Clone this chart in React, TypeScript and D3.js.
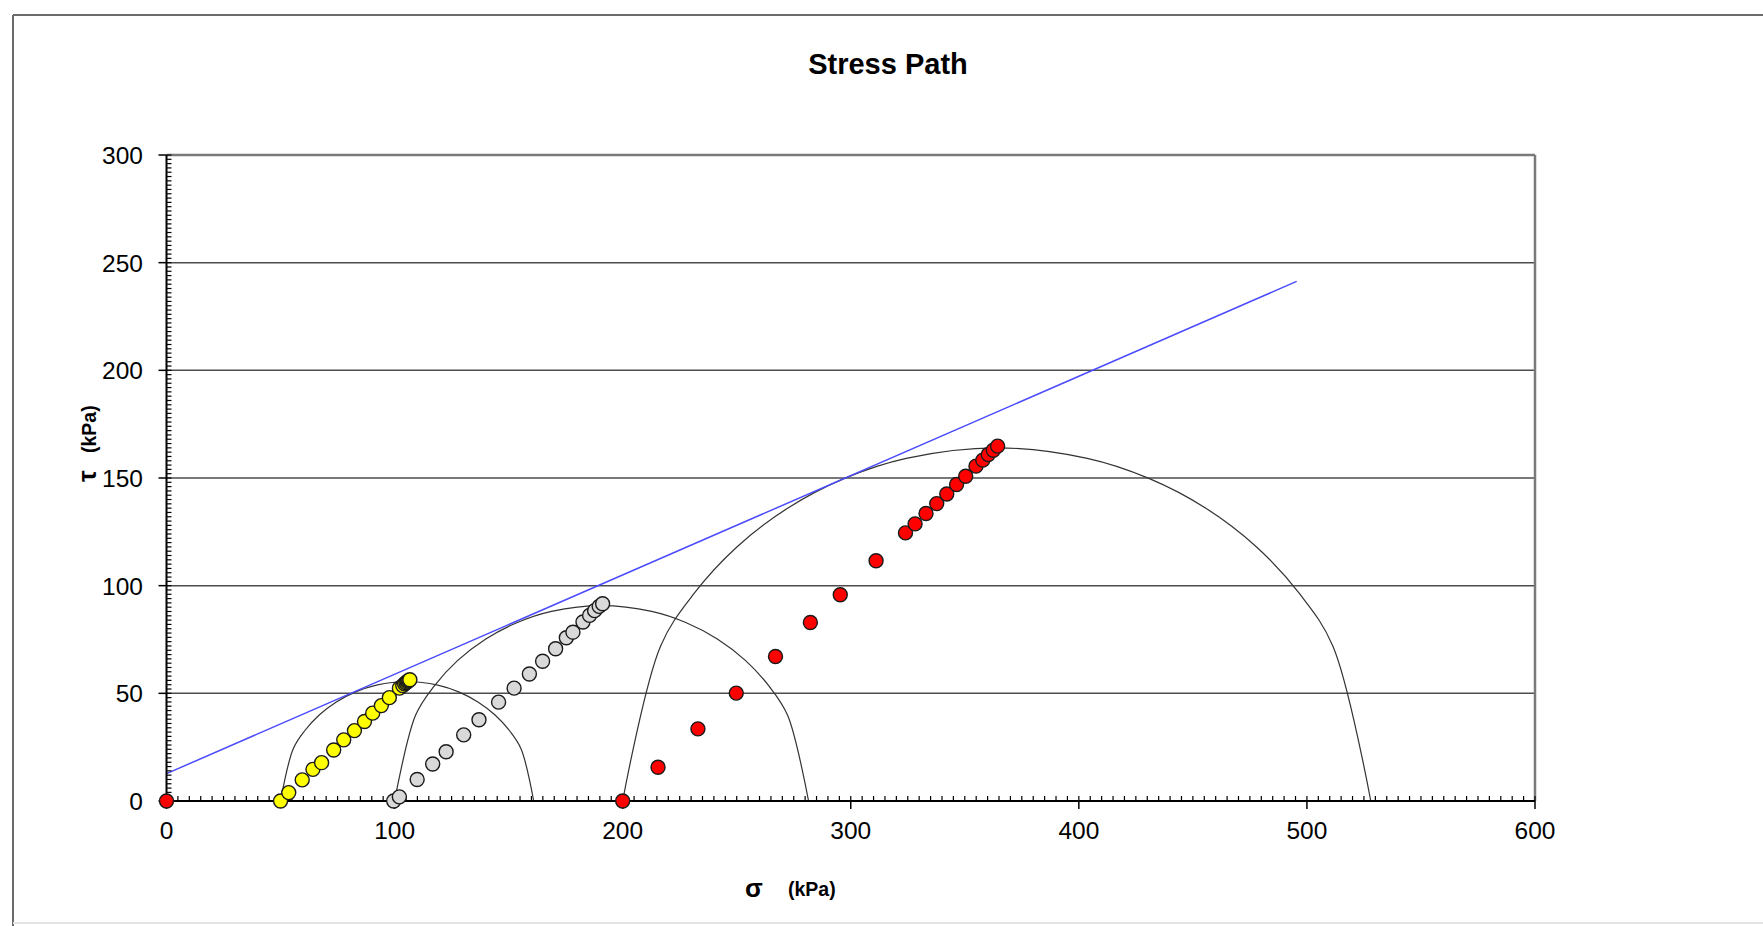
import React from "react";
import * as d3 from "d3";

const W = 1763;
const H = 926;

const xTicks = [0, 100, 200, 300, 400, 500, 600];
const yTicks = [0, 50, 100, 150, 200, 250, 300];

// Mohr circles: minor and major principal stresses (kPa)
const sigma3 = [50, 100, 200];
const sigma1 = [161, 281.5, 528];

// failure envelope end points [sigma, tau]
const envelope: [number, number][] = [
  [0, 12.7],
  [495.5, 241.3],
];

const originPoint: [number, number][] = [[0, 0]];

const yellowSigma = [50, 53.6, 59.5, 64.2, 68, 73.3, 77.7, 82.4, 86.8, 90.4, 94.2, 97.7, 102.1, 103.6, 104.4, 105.0, 105.5, 105.9, 106.3, 106.7];
const yellowTau = [0, 3.9, 9.8, 14.7, 17.8, 23.7, 28.4, 32.7, 36.9, 40.8, 44.3, 48.0, 52.4, 53.6, 54.4, 54.9, 55.3, 55.7, 56.0, 56.3];

const graySigma = [99.6, 102.1, 109.9, 116.7, 122.6, 130.3, 137, 145.6, 152.4, 159.1, 164.9, 170.6, 175.3, 178.2, 182.6, 185.5, 187.7, 189.7, 191.2];
const grayTau = [0, 1.9, 10, 17.2, 22.9, 30.7, 37.7, 45.9, 52.4, 59, 64.9, 70.7, 75.8, 78.4, 83.1, 86.2, 88.4, 90.4, 91.6];

const redSigma = [200, 215.5, 233, 249.8, 267, 282.3, 295.4, 311.1, 324, 328.2, 333, 337.7, 342.1, 346.4, 350.4, 354.9, 357.9, 360.3, 362.5, 364.4];
const redTau = [0, 15.7, 33.5, 50.1, 67.1, 82.9, 95.8, 111.6, 124.5, 128.7, 133.5, 138.1, 142.6, 147, 150.8, 155.5, 158.3, 160.9, 162.9, 164.8];

// sampling angles (degrees) used by the spreadsheet to draw the circles
const circleAngles = [0, 26, 36, 46, 56, 66, 76, 90, 104, 114, 124, 134, 144, 154, 180];

const FONT = "'Liberation Sans', Arial, Helvetica, sans-serif";

export default function App() {
  const x = d3.scaleLinear().domain([0, 600]).range([166.5, 1535]);
  const y = d3.scaleLinear().domain([0, 300]).range([801, 155]);

  const line = d3
    .line<[number, number]>()
    .x((d) => x(d[0]))
    .y((d) => y(d[1]));
  const smooth = d3
    .line<[number, number]>()
    .x((d) => x(d[0]))
    .y((d) => y(d[1]))
    .curve(d3.curveCatmullRom.alpha(0.5));

  const circles = sigma3.map((s3, i) => {
    const s1 = sigma1[i];
    const c = (s1 + s3) / 2;
    const r = (s1 - s3) / 2;
    const pts: [number, number][] = circleAngles.map((a) => {
      const t = (a * Math.PI) / 180;
      return [c - r * Math.cos(t), r * Math.sin(t)];
    });
    return smooth(pts) as string;
  });

  const xMinor = d3.range(0, 601, 5);
  const yMinor = d3.range(0, 301, 2);

  const series = [
    { s: yellowSigma, t: yellowTau, fill: "#ffff00" },
    { s: graySigma, t: grayTau, fill: "#d9d9d9" },
    { s: redSigma, t: redTau, fill: "#ff0000" },
  ];

  return (
    <svg
      width={W}
      height={H}
      style={{ position: "absolute", left: 0, top: 0, background: "#fff" }}
      fontFamily={FONT}
    >
      <rect x={0} y={0} width={W} height={H} fill="#fff" />
      {/* outer frame */}
      <line x1={13} y1={15} x2={W} y2={15} stroke="#6b6b6b" strokeWidth={2} />
      <line x1={13} y1={15} x2={13} y2={H} stroke="#6b6b6b" strokeWidth={2} />
      <line x1={13} y1={923} x2={W} y2={923} stroke="#e4e4e4" strokeWidth={2} />

      {/* title */}
      <text x={888} y={74} textAnchor="middle" fontSize={29} fontWeight="bold" fill="#000">
        Stress Path
      </text>

      {/* grid lines */}
      {yTicks
        .filter((t) => t > 0 && t < 300)
        .map((t) => (
          <line key={"g" + t} x1={x(0)} x2={x(600)} y1={y(t)} y2={y(t)} stroke="#4d4d4d" strokeWidth={1.5} />
        ))}
      {/* plot border top & right */}
      <line x1={x(0)} x2={x(600)} y1={y(300)} y2={y(300)} stroke="#7a7a7a" strokeWidth={2.5} />
      <line x1={x(600)} x2={x(600)} y1={y(300)} y2={y(0)} stroke="#7a7a7a" strokeWidth={2.5} />

      {/* Mohr circles */}
      {circles.map((d, i) => (
        <path key={"c" + i} d={d} fill="none" stroke="#333" strokeWidth={1.2} />
      ))}

      {/* failure envelope */}
      <path d={line(envelope) as string} fill="none" stroke="#4a4aff" strokeWidth={1.5} />

      {/* axes */}
      <line x1={x(0)} x2={x(0)} y1={y(0)} y2={y(300)} stroke="#000" strokeWidth={2} />
      <line x1={x(0)} x2={x(600)} y1={y(0)} y2={y(0)} stroke="#000" strokeWidth={2} />
      {yMinor.map((t) => (
        <line key={"ym" + t} x1={x(0)} x2={x(0) + 5} y1={y(t)} y2={y(t)} stroke="#000" strokeWidth={1.2} />
      ))}
      {xMinor.map((t) => (
        <line key={"xm" + t} x1={x(t)} x2={x(t)} y1={y(0)} y2={y(0) - 5} stroke="#000" strokeWidth={1.2} />
      ))}
      {yTicks.map((t) => (
        <g key={"yt" + t}>
          <line x1={x(0) - 8} x2={x(0)} y1={y(t)} y2={y(t)} stroke="#000" strokeWidth={1.5} />
          <text x={143} y={y(t) + 9} textAnchor="end" fontSize={24.5} fill="#000">
            {t}
          </text>
        </g>
      ))}
      {xTicks.map((t) => (
        <g key={"xt" + t}>
          <line x1={x(t)} x2={x(t)} y1={y(0)} y2={y(0) + 8} stroke="#000" strokeWidth={1.5} />
          <text x={x(t)} y={839} textAnchor="middle" fontSize={24.5} fill="#000">
            {t}
          </text>
        </g>
      ))}

      {/* axis titles */}
      <text x={754} y={897} textAnchor="middle" fontSize={26} fontWeight="bold">
        σ
      </text>
      <text x={788} y={896} fontSize={19.5} fontWeight="bold">
        (kPa)
      </text>
      <g transform="translate(96,482) rotate(-90)">
        <text x={0} y={0} fontSize={26} fontWeight="bold">
          τ
        </text>
        <text x={29} y={0} fontSize={19.5} fontWeight="bold">
          (kPa)
        </text>
      </g>

      {/* stress path points */}
      {series.map((ser, si) =>
        ser.s.map((s, i) => (
          <circle
            key={"p" + si + "-" + i}
            cx={x(s)}
            cy={y(ser.t[i])}
            r={7}
            fill={ser.fill}
            stroke="#1a1a1a"
            strokeWidth={1.4}
          />
        ))
      )}
      {originPoint.map((p, i) => (
        <circle key={"o" + i} cx={x(p[0])} cy={y(p[1])} r={7} fill="#ff0000" stroke="#1a1a1a" strokeWidth={1.4} />
      ))}
    </svg>
  );
}
